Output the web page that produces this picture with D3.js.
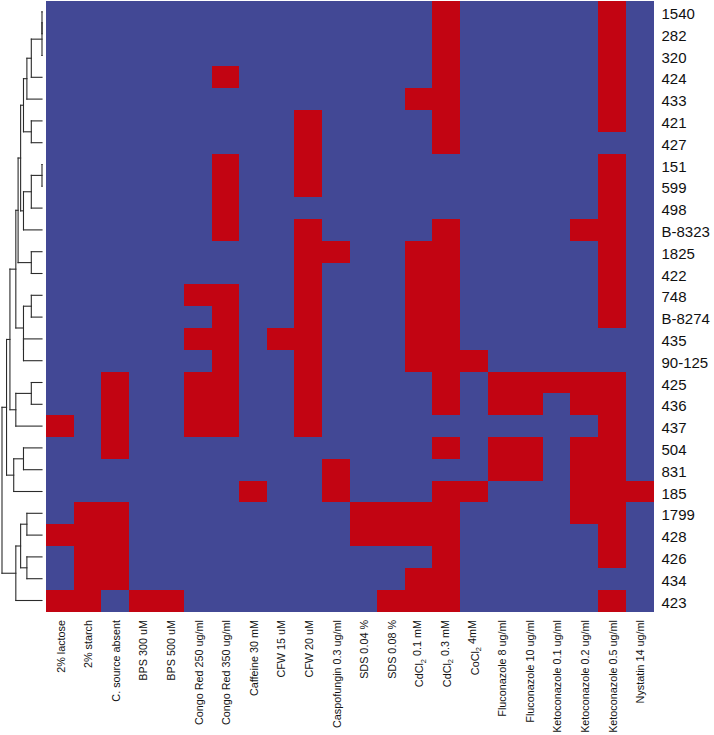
<!DOCTYPE html>
<html>
<head>
<meta charset="utf-8">
<script src="https://cdn.jsdelivr.net/npm/d3@7"></script>
<style>
  html, body { margin: 0; padding: 0; background: #fff; }
  svg { display: block; }
  text { font-family: "Liberation Sans", Arial, Helvetica, sans-serif; fill: #111; }
</style>
</head>
<body>
<svg id="chart" width="714" height="735"></svg>
<script>
// ---- data ----
const rowLabels = ["1540","282","320","424","433","421","427","151","599","498","B-8323","1825","422","748","B-8274","435","90-125","425","436","437","504","831","185","1799","428","426","434","423"];

const colLabels = ["2% lactose","2% starch","C. source absent","BPS 300 uM","BPS 500 uM","Congo Red 250 ug/ml","Congo Red 350 ug/ml","Caffeine 30 mM","CFW 15 uM","CFW 20 uM","Caspofungin 0.3 ug/ml","SDS 0.04 %","SDS 0.08 %","CdCl₂ 0.1 mM","CdCl₂ 0.3 mM","CoCl₂ 4mM","Fluconazole 8 ug/ml","Fluconazole 10 ug/ml","Ketoconazole 0.1 ug/ml","Ketoconazole 0.2 ug/ml","Ketoconazole 0.5 ug/ml","Nystatin 14 ug/ml"];

// 1 = sensitive (red), 0 = not (blue); one row per strain, in display order
const growth = [
  [0,0,0,0,0, 0,0,0,0,0, 0,0,0,0,1, 0,0,0,0,0, 1,0],
  [0,0,0,0,0, 0,0,0,0,0, 0,0,0,0,1, 0,0,0,0,0, 1,0],
  [0,0,0,0,0, 0,0,0,0,0, 0,0,0,0,1, 0,0,0,0,0, 1,0],
  [0,0,0,0,0, 0,1,0,0,0, 0,0,0,0,1, 0,0,0,0,0, 1,0],
  [0,0,0,0,0, 0,0,0,0,0, 0,0,0,1,1, 0,0,0,0,0, 1,0],
  [0,0,0,0,0, 0,0,0,0,1, 0,0,0,0,1, 0,0,0,0,0, 1,0],
  [0,0,0,0,0, 0,0,0,0,1, 0,0,0,0,1, 0,0,0,0,0, 0,0],
  [0,0,0,0,0, 0,1,0,0,1, 0,0,0,0,0, 0,0,0,0,0, 1,0],
  [0,0,0,0,0, 0,1,0,0,1, 0,0,0,0,0, 0,0,0,0,0, 1,0],
  [0,0,0,0,0, 0,1,0,0,0, 0,0,0,0,0, 0,0,0,0,0, 1,0],
  [0,0,0,0,0, 0,1,0,0,1, 0,0,0,0,1, 0,0,0,0,1, 1,0],
  [0,0,0,0,0, 0,0,0,0,1, 1,0,0,1,1, 0,0,0,0,0, 1,0],
  [0,0,0,0,0, 0,0,0,0,1, 0,0,0,1,1, 0,0,0,0,0, 1,0],
  [0,0,0,0,0, 1,1,0,0,1, 0,0,0,1,1, 0,0,0,0,0, 1,0],
  [0,0,0,0,0, 0,1,0,0,1, 0,0,0,1,1, 0,0,0,0,0, 1,0],
  [0,0,0,0,0, 1,1,0,1,1, 0,0,0,1,1, 0,0,0,0,0, 0,0],
  [0,0,0,0,0, 0,1,0,0,1, 0,0,0,1,1, 1,0,0,0,0, 0,0],
  [0,0,1,0,0, 1,1,0,0,1, 0,0,0,0,1, 0,1,1,1,1, 1,0],
  [0,0,1,0,0, 1,1,0,0,1, 0,0,0,0,1, 0,1,1,0,1, 1,0],
  [1,0,1,0,0, 1,1,0,0,1, 0,0,0,0,0, 0,0,0,0,0, 1,0],
  [0,0,1,0,0, 0,0,0,0,0, 0,0,0,0,1, 0,1,1,0,1, 1,0],
  [0,0,0,0,0, 0,0,0,0,0, 1,0,0,0,0, 0,1,1,0,1, 1,0],
  [0,0,0,0,0, 0,0,1,0,0, 1,0,0,0,1, 1,0,0,0,1, 1,1],
  [0,1,1,0,0, 0,0,0,0,0, 0,1,1,1,1, 0,0,0,0,1, 1,0],
  [1,1,1,0,0, 0,0,0,0,0, 0,1,1,1,1, 0,0,0,0,0, 1,0],
  [0,1,1,0,0, 0,0,0,0,0, 0,0,0,0,1, 0,0,0,0,0, 1,0],
  [0,1,1,0,0, 0,0,0,0,0, 0,0,0,1,1, 0,0,0,0,0, 0,0],
  [1,1,0,1,1, 0,0,0,0,0, 0,0,1,1,1, 0,0,0,0,0, 1,0]
];

// dendrogram merges (hclust style): negative = leaf (1-based row), positive = earlier merge (1-based)
const mergeLeft  = [-1, -3, -4, -5, -6, 4, -8, -10, -11, 6, -12, 10, -14, -16, 13, 12, -18, -20, 16, -21, -23, 19, -24, -26, 23, -28, 22];
const mergeRight = [-2,  1,  2,  3, -7, 5, -9,   7,   8, 9, -13, 11, -15, -17, 14, 15, -19,  17, 18, -22,  20, 21, -25, -27, 24,  25, 26];
const mergeHeight = [0, 0, 1, 1.414, 1, 1.732, 0, 1, 1.732, 2, 1, 2.236, 1, 1.732, 1.732, 2.449, 1, 2.449, 3, 1.732, 2.646, 3.317, 1.414, 1.414, 2, 2.449, 3.742];

// ---- layout ----
const BLUE = "#424895", RED = "#c20412";
const svg = d3.select("#chart");

const x = d3.scaleBand().domain(d3.range(colLabels.length)).range([46, 653.2]).padding(0);
const y = d3.scaleBand().domain(d3.range(rowLabels.length)).range([1, 611.4]).padding(0);
const hx = d3.scaleLinear().domain([0, d3.max(mergeHeight)]).range([42, 2]);

// heatmap cells
const cells = [];
growth.forEach((row, r) => row.forEach((v, c) => cells.push({r, c, v})));
svg.append("g").selectAll("rect").data(cells).join("rect")
  .attr("x", d => x(d.c))
  .attr("y", d => y(d.r))
  .attr("width", x.bandwidth() + 0.6)
  .attr("height", y.bandwidth() + 0.6)
  .attr("fill", d => d.v ? RED : BLUE)
  .attr("shape-rendering", "crispEdges");

// row labels
svg.append("g").selectAll("text").data(rowLabels).join("text")
  .attr("x", 661.5)
  .attr("y", (d, i) => y(i) + y.bandwidth() / 2)
  .attr("dy", "0.47em")
  .attr("font-size", "15px")
  .text(d => d);

// column labels (rotated), with subscript for chemical formulae
const colG = svg.append("g").selectAll("text").data(colLabels).join("text")
  .attr("transform", (d, i) => `translate(${x(i) + x.bandwidth() / 2 + 1},620) rotate(-90)`)
  .attr("text-anchor", "end")
  .attr("dy", "0.35em")
  .attr("font-size", "10.8px");
colG.each(function(d) {
  const t = d3.select(this);
  const parts = d.split("₂");
  if (parts.length === 1) { t.text(d); return; }
  t.append("tspan").text(parts[0]);
  t.append("tspan").attr("dy", "0.3em").attr("font-size", "7.5px").text("2");
  t.append("tspan").attr("dy", "-0.42em").text(parts[1]);
});

// dendrogram
const nodeY = [], nodeH = [];
function posOf(id) { return id < 0 ? y(-id - 1) + y.bandwidth() / 2 : nodeY[id - 1]; }
function hOf(id) { return id < 0 ? 0 : nodeH[id - 1]; }
const segs = [];
mergeLeft.forEach((l, k) => {
  const r = mergeRight[k], h = mergeHeight[k];
  const yl = posOf(l), yr = posOf(r);
  segs.push([hx(h), yl, hx(h), yr]);
  segs.push([hx(h), yl, hx(hOf(l)), yl]);
  segs.push([hx(h), yr, hx(hOf(r)), yr]);
  nodeY.push((yl + yr) / 2);
  nodeH.push(h);
});
svg.append("g").selectAll("line").data(segs).join("line")
  .attr("x1", d => d[0]).attr("y1", d => d[1])
  .attr("x2", d => d[2]).attr("y2", d => d[3])
  .attr("stroke", "#2b2b2b")
  .attr("stroke-width", 1.1)
  .attr("stroke-linecap", "square");
</script>
</body>
</html>
